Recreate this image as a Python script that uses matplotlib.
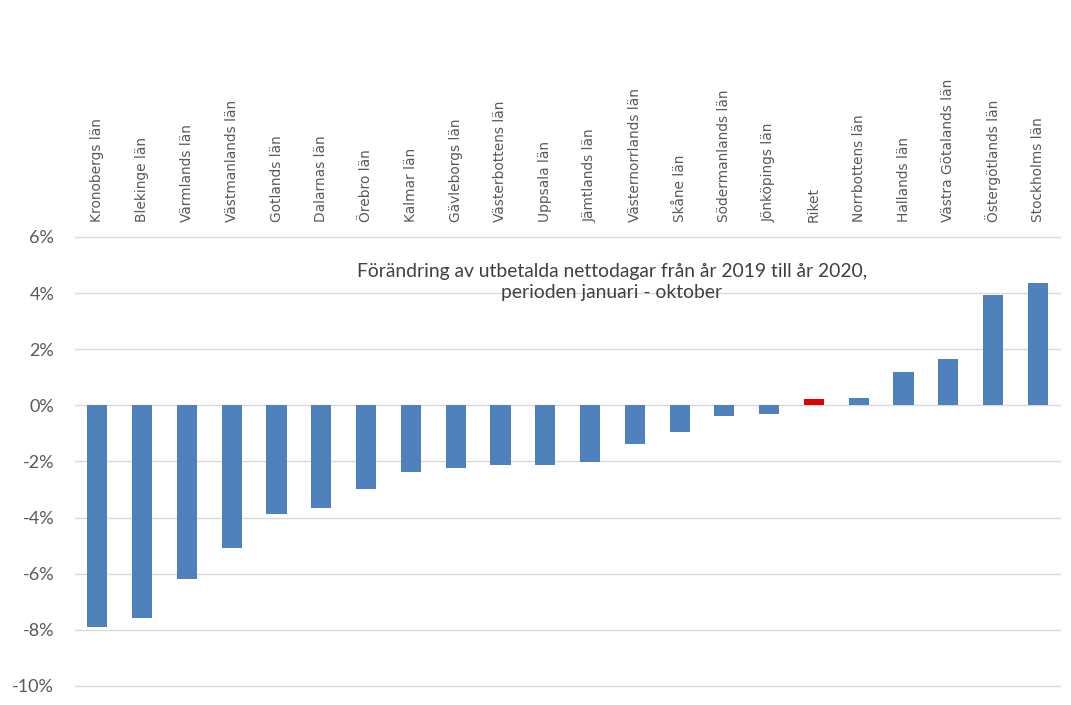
import matplotlib
matplotlib.use("Agg")
import matplotlib.pyplot as plt
from matplotlib.ticker import FuncFormatter

# Förändring i procent, sorterat som i originalet
lan = ['Kronobergs län', 'Blekinge län', 'Värmlands län', 'Västmanlands län',
       'Gotlands län', 'Dalarnas län', 'Örebro län', 'Kalmar län',
       'Gävleborgs län', 'Västerbottens län', 'Uppsala län', 'Jämtlands län',
       'Västernorrlands län', 'Skåne län', 'Södermanlands län',
       'Jönköpings län', 'Riket', 'Norrbottens län', 'Hallands län',
       'Västra Götalands län', 'Östergötlands län', 'Stockholms län']
forandring = [-7.9, -7.57, -6.18, -5.07, -3.89, -3.65, -3.0, -2.39,
              -2.25, -2.11, -2.12, -2.01, -1.38, -0.94, -0.38,
              -0.3, 0.22, 0.27, 1.18, 1.64, 3.93, 4.36]
yticks = [-10, -8, -6, -4, -2, 0, 2, 4, 6]

BLUE = '#4F81BD'
RED = '#E00000'
GRAY = '#595959'

colors = [RED if n == 'Riket' else BLUE for n in lan]

fig = plt.figure(figsize=(10.71, 7.05), dpi=100)
ax = fig.add_axes([0.070, 0.027, 0.920, 0.637])

x = list(range(len(lan)))
ax.bar(x, forandring, width=0.45, color=colors, zorder=3)

ax.set_xlim(-0.5, len(lan) - 0.5)
ax.set_ylim(-10, 6)
ax.set_yticks(yticks)
ax.yaxis.set_major_formatter(FuncFormatter(lambda v, p: f'{v:.0f}%'))
ax.grid(True, axis='y', color='#D9D9D9', linewidth=1, zorder=0)
for gl in ax.get_ygridlines():
    gl.set_clip_on(False)

for s in ax.spines.values():
    s.set_visible(False)

ax.xaxis.tick_top()
ax.set_xticks(x)
ax.set_xticklabels(lan, rotation=90, fontsize=9.9, color=GRAY,
                   family='DejaVu Sans')
ax.tick_params(axis='x', length=0, pad=11)
ax.tick_params(axis='y', length=0, pad=15, labelsize=13, labelcolor=GRAY)
for t in ax.get_yticklabels():
    t.set_family('Lato')

ax.text(0.545, 0.90, 'Förändring av utbetalda nettodagar från år 2019 till år 2020,\nperioden januari - oktober',
        transform=ax.transAxes, ha='center', va='center', fontsize=13.9,
        color='#404040', family='Lato', linespacing=1.3)

fig.savefig('out.png', dpi=100)
